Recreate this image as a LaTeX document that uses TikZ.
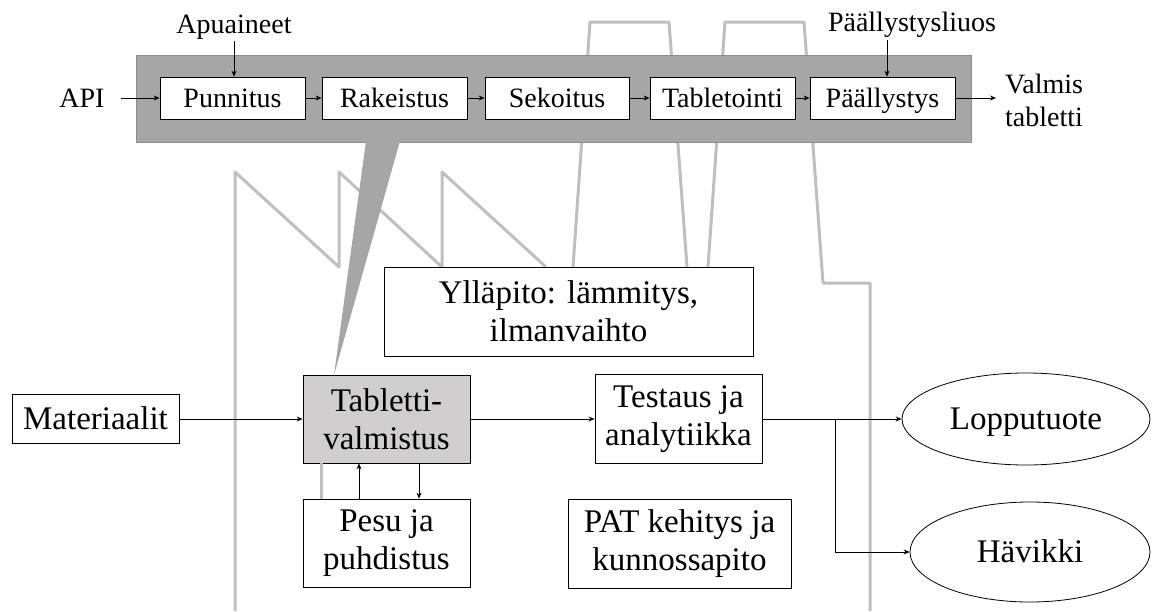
\documentclass[tikz,border=0pt]{standalone}
\usepackage{fontspec}
\setmainfont{Liberation Serif}
\usetikzlibrary{arrows.meta,shapes.geometric,calc}
\definecolor{outl}{HTML}{BFBFBF}
\definecolor{bandc}{HTML}{A6A6A6}
\definecolor{tabfill}{HTML}{D0CECE}
\begin{document}
\begin{tikzpicture}[x=1pt,y=-1pt,
 outline/.style={draw=outl,line width=3pt,line join=round},
 bandbox/.style={draw=black,fill=white,line width=0.8pt,minimum width=145pt,minimum height=42pt,inner sep=0pt,text height=18.5pt,text depth=0pt,font=\fontsize{28}{32}\selectfont},
 mainbox/.style={draw=black,fill=white,line width=0.8pt,inner sep=0pt,align=center,font=\fontsize{33}{38}\selectfont},
 lbl/.style={inner sep=0pt,font=\fontsize{28}{32}\selectfont},
 arr/.style={-{Stealth[length=6pt,width=5pt]},line width=0.8pt},
 oval/.style={ellipse,draw=black,fill=white,line width=0.8pt,inner sep=0pt,text height=21.8pt,text depth=0pt,font=\fontsize{33}{38}\selectfont}]
\useasboundingbox (0,0) rectangle (1152,611);
% factory outline
\draw[outline] (235,611) -- (235,172) -- (339,267) -- (339,172) -- (442,267) -- (442,172) -- (546,267);
\draw[outline] (573,267) -- (590,22) -- (669,22) -- (687,267);
\draw[outline] (708,267) -- (725,22) -- (804,22) -- (823,283) -- (870,283) -- (870,611);
% band
\draw[fill=bandc,draw=bandc!85!black,line width=0.8pt] (136,55) rectangle (971,142);
\fill[bandc] (366,141) -- (400,141) -- (334,375) -- cycle;
% band nodes
\node[bandbox] (pun) at (232.5,98) {Punnitus};
\node[bandbox] (rak) at (394.5,98) {Rakeistus};
\node[bandbox,minimum width=144pt] (sek) at (557,98) {Sekoitus};
\node[bandbox] (tab2) at (722.5,98) {Tabletointi};
\node[bandbox] (paa) at (882.5,98) {Päällystys};
\node[lbl,inner xsep=16pt] (api) at (82,98) {API};
\node[lbl,inner ysep=2pt] (apu) at (234,27) {Apuaineet};
\node[lbl,inner ysep=2pt] (pls) at (912,25) {Päällystysliuos};
\node[lbl,align=left,anchor=west,font=\fontsize{28}{33}\selectfont,inner xsep=9pt] (val) at (996,100) {Valmis\\tabletti};
% main nodes
\node[mainbox,minimum width=369pt,minimum height=89pt] (yll) at (568.5,311.5) {Ylläpito: lämmitys,\\ilmanvaihto};
\node[mainbox,minimum width=167pt,minimum height=49pt,text height=21.8pt,text depth=0pt] (mat) at (95.5,419) {Materiaalit};
\node[mainbox,fill=tabfill,minimum width=167pt,minimum height=88pt] (tab) at (386.5,419) {Tabletti-\\valmistus};
\node[mainbox,minimum width=167pt,minimum height=89pt] (tes) at (678.5,419) {Testaus ja\\analytiikka};
\node[mainbox,minimum width=167pt,minimum height=88pt] (pes) at (386.5,543) {Pesu ja\\puhdistus};
\node[mainbox,minimum width=223pt,minimum height=89pt] (pat) at (679.5,543.5) {PAT kehitys ja\\kunnossapito};
\node[oval,minimum width=248pt,minimum height=92pt] (lop) at (1026,419) {Lopputuote};
\node[oval,minimum width=240pt,minimum height=100pt] (hav) at (1030,552) {Hävikki};
% connectors
\draw[outline] ([xshift=-65.5pt]tab.south) -- ([xshift=-65.5pt]pes.north);
\draw[arr] (api.east) -- (pun.west);
\draw[arr] (pun) -- (rak);
\draw[arr] (rak) -- (sek);
\draw[arr] (sek) -- (tab2);
\draw[arr] (tab2) -- (paa);
\draw[arr] (paa.east) -- (val.west |- paa.east);
\draw[arr] (apu.south) -- (apu.south |- pun.north);
\draw[arr] (pls.south -| 887,0) -- (paa.north -| 887,0);
\draw[arr] (mat.east) -- (tab.west);
\draw[arr] (tab) -- (tes);
\draw[arr] (tes) -- (lop);
\coordinate (br) at (835,419);
\draw[arr] (br) |- (hav.west);
\draw[arr] ([xshift=-27.5pt]pes.north) -- ([xshift=-27.5pt]tab.south);
\draw[arr] ([xshift=32.5pt]tab.south) -- ([xshift=32.5pt]pes.north);
\end{tikzpicture}
\end{document}
